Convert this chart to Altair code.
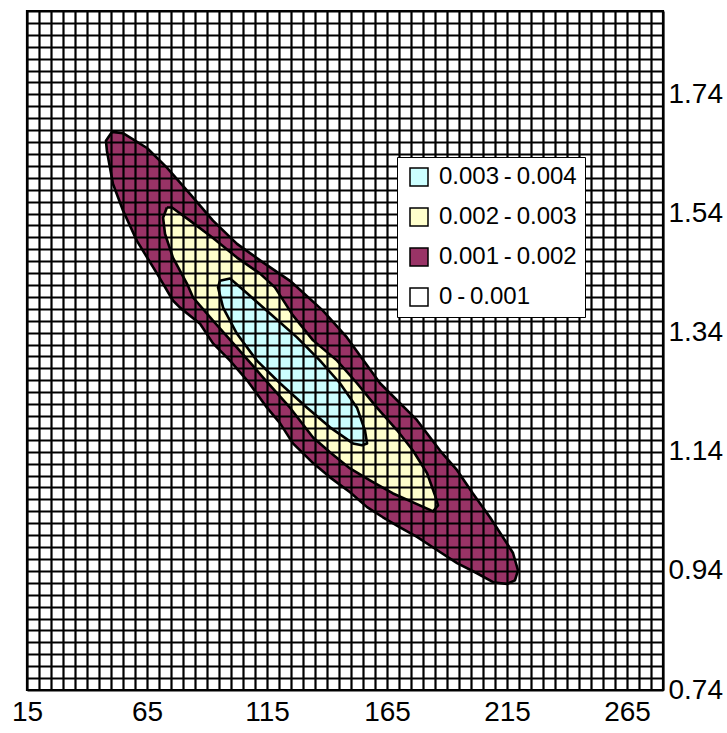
import altair as alt
import pandas as pd

# Surface grid (category axis every 5, series axis every 0.02)
X_GRID = list(range(15, 281, 5))
Y_GRID = [round(0.74 + 0.02 * k, 2) for k in range(58)]
X_LABELS = [15, 65, 115, 165, 215, 265]
Y_LABELS = [0.74, 0.94, 1.14, 1.34, 1.54, 1.74]

BANDS = ["0.003\u2009-\u20090.004", "0.002\u2009-\u20090.003",
         "0.001\u2009-\u20090.002", "0\u2009-\u20090.001"]
BAND_COLORS = ["#CCFFFF", "#FFFFCC", "#993366", "#FFFFFF"]

# Contour at 0.001 (outer edge of the 0.001-0.002 band)
C1_X = [50.4, 55.0, 65.0, 73.3, 82.9, 92.5, 102.5, 113.3, 124.6, 138.3, 148.3,
        162.1, 177.5, 187.1, 194.2, 200.8, 207.9, 215.0, 217.5, 219.6, 218.3,
        215.0, 209.2, 202.5, 194.2, 185.8, 177.5, 170.4, 163.3, 156.7, 149.6,
        141.25, 134.2, 125.8, 120.4, 115.0, 106.7, 99.6, 92.5, 87.1, 78.75,
        75.8, 69.2, 60.8, 55.0, 50.8, 48.3, 47.9]
C1_Y = [1.677, 1.675, 1.650, 1.617, 1.573, 1.528, 1.489, 1.458, 1.427, 1.377,
        1.332, 1.255, 1.193, 1.142, 1.109, 1.070, 1.030, 0.986, 0.970, 0.941,
        0.924, 0.918, 0.921, 0.936, 0.953, 0.975, 0.997, 1.013, 1.030, 1.047,
        1.072, 1.097, 1.121, 1.154, 1.188, 1.214, 1.260, 1.293, 1.322, 1.355,
        1.382, 1.394, 1.439, 1.494, 1.545, 1.590, 1.645, 1.662]

# Contour at 0.002
C2_X = [73.3, 75.4, 82.9, 92.5, 102.5, 112.1, 118.3, 125.8, 134.2, 144.2, 152.5,
        160.8, 169.2, 175.8, 181.7, 185.0, 186.25, 184.2, 177.5, 167.5, 157.9,
        149.6, 141.25, 134.2, 124.6, 113.3, 102.5, 92.5, 84.2, 81.7, 75.8,
        72.5, 71.7]
C2_Y = [1.550, 1.550, 1.528, 1.499, 1.466, 1.439, 1.416, 1.369, 1.327, 1.293,
        1.255, 1.214, 1.176, 1.142, 1.104, 1.067, 1.050, 1.040, 1.052, 1.070,
        1.092, 1.112, 1.139, 1.164, 1.214, 1.265, 1.315, 1.360, 1.399, 1.422,
        1.466, 1.506, 1.533]

# Contour at 0.003
C3_X = [95.4, 99.6, 106.7, 116.25, 127.5, 137.1, 145.4, 152.5, 155.8, 156.7,
        154.6, 150.8, 141.25, 131.7, 120.4, 110.8, 102.5, 96.7, 94.6]
C3_Y = [1.427, 1.431, 1.406, 1.372, 1.332, 1.293, 1.255, 1.214, 1.176, 1.154,
        1.151, 1.154, 1.181, 1.214, 1.255, 1.293, 1.338, 1.382, 1.416]


def ring(xs, ys, band):
    n = len(xs)
    rows = [{"x": xs[i % n], "y": ys[i % n], "i": i, "band": band} for i in range(n + 1)]
    return pd.DataFrame(rows)


FONT = "Liberation Sans"

x_label_list = ",".join(str(v) for v in X_LABELS)
y_label_list = ",".join(f"{v:.2f}" for v in Y_LABELS)

x_enc = alt.X(
    "x:Q",
    scale=alt.Scale(domain=[X_GRID[0], X_GRID[-1]], nice=False, zero=False),
    axis=alt.Axis(
        orient="bottom", values=X_GRID, title=None, grid=True, gridColor="black",
        gridWidth=2.2, gridOpacity=1, ticks=False, domain=False, zindex=1,
        labelExpr=f"indexof([{x_label_list}], datum.value) >= 0 ? datum.label : ''",
        labelFont=FONT, labelFontSize=28, labelColor="black", labelPadding=8,
        labelOverlap=False, labelFlush=False,
    ),
)
y_enc = alt.Y(
    "y:Q",
    scale=alt.Scale(domain=[Y_GRID[0], Y_GRID[-1]], nice=False, zero=False),
    axis=alt.Axis(
        orient="right", values=Y_GRID, title=None, grid=True, gridColor="black",
        gridWidth=2.2, gridOpacity=1, ticks=False, domain=False, zindex=1,
        labelExpr=f"indexof([{y_label_list}], round(datum.value * 100) / 100) >= 0 ? format(datum.value, '.2f') : ''",
        labelFont=FONT, labelFontSize=28, labelColor="black", labelPadding=5,
        labelAlign="left", labelBaseline="middle", labelOverlap=False, labelFlush=False,
    ),
)
fill_enc = alt.Fill(
    "band:N",
    scale=alt.Scale(domain=BANDS, range=BAND_COLORS),
    legend=alt.Legend(
        title=None, orient="none", legendX=370, legendY=146, padding=8,
        symbolOffset=2, fillColor="white", strokeColor="black", symbolType="square",
        symbolSize=324, symbolStrokeColor="black", symbolStrokeWidth=1.5,
        symbolOpacity=1, labelFont=FONT, labelFontSize=24, labelColor="black",
        labelOffset=8, rowPadding=16, zindex=2,
    ),
)


def band_layer(df):
    return alt.Chart(df).mark_line(
        stroke="black", strokeWidth=2.6, strokeJoin="round", interpolate="linear"
    ).encode(x=x_enc, y=y_enc, fill=fill_enc, order=alt.Order("i:Q"))


chart = alt.layer(
    band_layer(ring(C1_X, C1_Y, BANDS[2])),
    band_layer(ring(C2_X, C2_Y, BANDS[1])),
    band_layer(ring(C3_X, C3_Y, BANDS[0])),
).properties(
    width=636, height=679,
    padding={"left": 27, "top": 11, "right": 64, "bottom": 43},
    autosize=alt.AutoSizeParams(type="none"),
    background="white",
).configure_view(stroke="black", strokeWidth=2.2)

chart.save("out.html", embed_options={"renderer": "svg", "actions": False})
